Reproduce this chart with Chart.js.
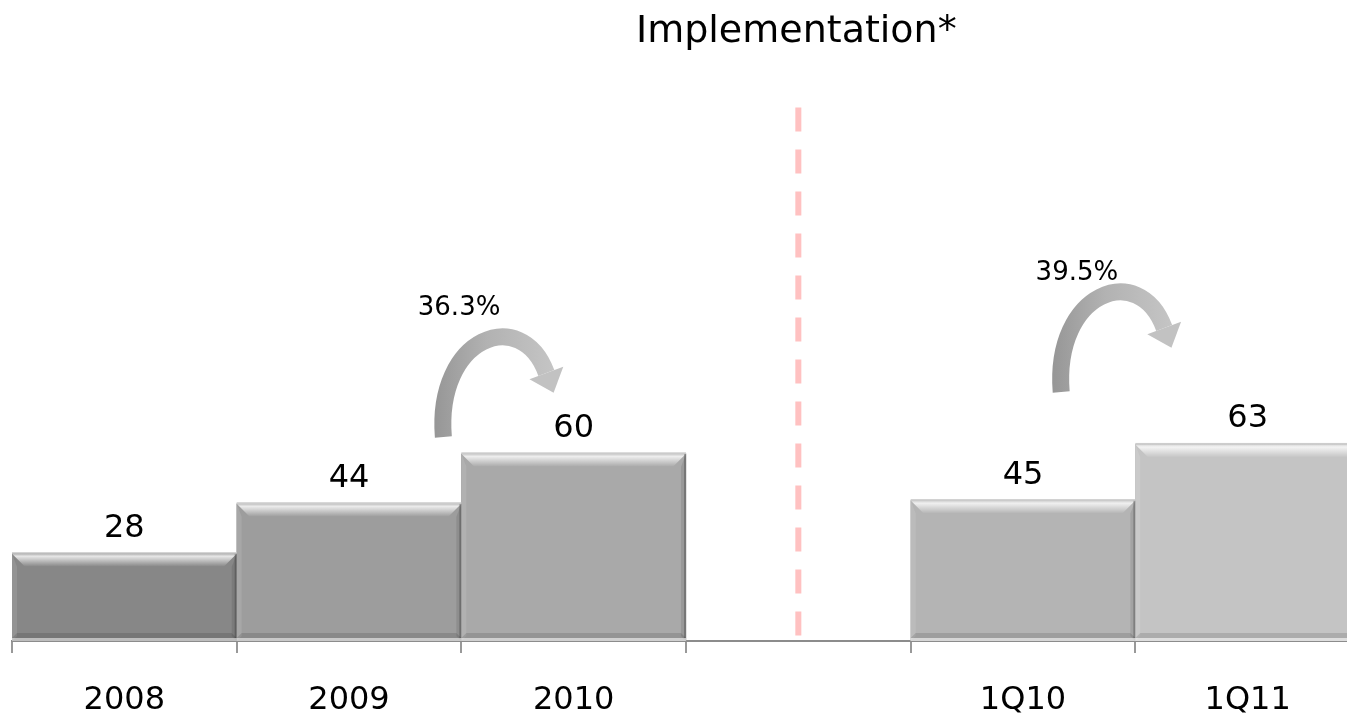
<!DOCTYPE html>
<html>
<head>
<meta charset="utf-8">
<script src="https://cdn.jsdelivr.net/npm/chart.js@4.4.1/dist/chart.umd.min.js"></script>
<style>
  html, body { margin: 0; padding: 0; background: #fff; overflow: hidden; }
  canvas { display: block; }
</style>
</head>
<body>
<canvas id="implChart" width="1362" height="716"></canvas>
<script>
// chart data
const categories = ['2008', '2009', '2010', '', '1Q10', '1Q11'];
const values = [28, 44, 60, null, 45, 63];
const barColors = ['#878787', '#9d9d9d', '#a9a9a9', '#ffffff', '#b4b4b4', '#c4c4c4'];
const chartTitle = 'Implementation*';

// growth arrows (tail and label anchors in category index / value units)
const growthLabels = ['36.3%', '39.5%'];
const growthTailX = [1.42, 4.17];
const growthTailY = [65.4, 79.8];
const growthTextX = [1.49, 4.24];
const growthTextY = [104.5, 115.7];

// dashed divider between yearly and quarterly figures
const dividerIndex = 3;
const dividerFrom = 171;
const dividerTo = 1.6;

const FONT = "'DejaVu Sans', Verdana, sans-serif";

function poly(ctx, pts) {
  ctx.beginPath();
  ctx.moveTo(pts[0][0], pts[0][1]);
  for (let i = 1; i < pts.length; i++) ctx.lineTo(pts[i][0], pts[i][1]);
  ctx.closePath();
  ctx.fill();
}

function drawArrow(ctx, tx, ty) {
  const p1 = [tx - 8, ty - 100], p2 = [tx + 78, ty - 132], p3 = [tx + 103, ty - 64];
  const g = ctx.createLinearGradient(tx - 15, 0, tx + 115, 0);
  g.addColorStop(0, '#939393');
  g.addColorStop(0.45, '#b2b2b2');
  g.addColorStop(1, '#c6c6c6');
  ctx.strokeStyle = g;
  ctx.lineWidth = 17;
  ctx.lineCap = 'butt';
  ctx.beginPath();
  ctx.moveTo(tx, ty);
  ctx.bezierCurveTo(p1[0], p1[1], p2[0], p2[1], p3[0], p3[1]);
  ctx.stroke();

  // arrow head
  const dx = p3[0] - p2[0], dy = p3[1] - p2[1];
  const len = Math.hypot(dx, dy);
  const ux = dx / len, uy = dy / len;
  const nx = -uy, ny = ux;
  const hw = 18, hl = 21;
  ctx.fillStyle = '#c2c2c2';
  poly(ctx, [
    [p3[0] + nx * hw, p3[1] + ny * hw],
    [p3[0] - nx * hw, p3[1] - ny * hw],
    [p3[0] + ux * hl, p3[1] + uy * hl]
  ]);
}

const decorPlugin = {
  id: 'decor',
  beforeDatasetsDraw(chart) {
    const ctx = chart.ctx;
    const xs = chart.scales.x, ys = chart.scales.y;
    // dashed divider
    const dx = xs.getPixelForValue(dividerIndex);
    ctx.save();
    ctx.strokeStyle = '#ffc1c1';
    ctx.lineWidth = 6;
    ctx.setLineDash([24, 18]);
    ctx.beginPath();
    ctx.moveTo(dx, ys.getPixelForValue(dividerFrom));
    ctx.lineTo(dx, ys.getPixelForValue(dividerTo));
    ctx.stroke();
    ctx.restore();
  },
  afterDatasetsDraw(chart) {
    const ctx = chart.ctx;
    const xs = chart.scales.x, ys = chart.scales.y;

    // bevelled look on each bar + value labels
    chart.getDatasetMeta(0).data.forEach((bar, i) => {
      if (values[i] == null) return;
      const { x, y, base, width } = bar.getProps(['x', 'y', 'base', 'width'], true);
      const x0 = x - width / 2, x1 = x + width / 2, b = 13, s = 5;
      ctx.save();

      // top highlight band
      let g = ctx.createLinearGradient(0, y, 0, y + b);
      g.addColorStop(0, 'rgba(255,255,255,0.35)');
      g.addColorStop(0.2, 'rgba(255,255,255,0.8)');
      g.addColorStop(0.5, 'rgba(255,255,255,0.5)');
      g.addColorStop(1, 'rgba(255,255,255,0)');
      ctx.fillStyle = g;
      poly(ctx, [[x0, y], [x1, y], [x1 - b, y + b], [x0 + b, y + b]]);

      // side and bottom shading
      ctx.fillStyle = 'rgba(255,255,255,0.10)';
      poly(ctx, [[x0, y], [x0 + s, y + b], [x0 + s, base - s], [x0, base]]);

      ctx.fillStyle = 'rgba(0,0,0,0.09)';
      poly(ctx, [[x1, y], [x1, base], [x1 - s, base - s], [x1 - s, y + b]]);

      ctx.fillStyle = 'rgba(0,0,0,0.12)';
      poly(ctx, [[x0, base - 3], [x1, base - 3], [x1 - s, base - s - 3], [x0 + s, base - s - 3]]);

      ctx.fillStyle = 'rgba(255,255,255,0.45)';
      ctx.fillRect(x0, base - 3, width, 3);

      ctx.fillStyle = 'rgba(0,0,0,0.22)';
      ctx.fillRect(x1 - 2, y, 2, base - y - 3);

      ctx.fillStyle = 'rgba(200,200,200,0.9)';
      ctx.fillRect(x0, y - 1.5, width, 1.5);

      ctx.fillStyle = '#000';
      ctx.font = '32px ' + FONT;
      ctx.textAlign = 'center';
      ctx.textBaseline = 'alphabetic';
      ctx.fillText(String(values[i]), x, y - 17);
      ctx.restore();
    });

    // growth arrows
    ctx.save();
    growthLabels.forEach((txt, i) => {
      const tx = xs.getPixelForValue(growthTailX[i]);
      const ty = ys.getPixelForValue(growthTailY[i]);
      drawArrow(ctx, tx, ty);
      ctx.fillStyle = '#000';
      ctx.font = '26px ' + FONT;
      ctx.textAlign = 'center';
      ctx.textBaseline = 'alphabetic';
      ctx.fillText(txt, xs.getPixelForValue(growthTextX[i]), ys.getPixelForValue(growthTextY[i]));
    });
    ctx.restore();

    // title over the divider
    ctx.save();
    ctx.fillStyle = '#000';
    ctx.font = '38px ' + FONT;
    ctx.textAlign = 'center';
    ctx.textBaseline = 'alphabetic';
    ctx.fillText(chartTitle, xs.getPixelForValue(dividerIndex) - 2, chart.chartArea.top + 25);
    ctx.restore();
  }
};

new Chart(document.getElementById('implChart'), {
  type: 'bar',
  data: {
    labels: categories,
    datasets: [{
      data: values,
      backgroundColor: barColors,
      borderWidth: 0,
      categoryPercentage: 1,
      barPercentage: 1
    }]
  },
  options: {
    responsive: false,
    animation: false,
    events: [],
    layout: { padding: { left: 12, right: 2, top: 17, bottom: 0 } },
    plugins: {
      legend: { display: false },
      tooltip: { enabled: false },
      title: { display: false }
    },
    scales: {
      x: {
        offset: true,
        afterFit(scale) { scale.height = 75; },
        border: { display: true, color: '#8c8c8c', width: 2 },
        grid: {
          offset: true,
          drawOnChartArea: false,
          drawTicks: true,
          tickLength: 12,
          color: '#999999',
          lineWidth: 2
        },
        ticks: {
          color: '#000',
          padding: 28,
          font: { family: FONT, size: 32 },
          maxRotation: 0,
          autoSkip: false
        }
      },
      y: {
        display: false,
        min: 0,
        max: 200
      }
    }
  },
  plugins: [decorPlugin]
});
</script>
</body>
</html>
